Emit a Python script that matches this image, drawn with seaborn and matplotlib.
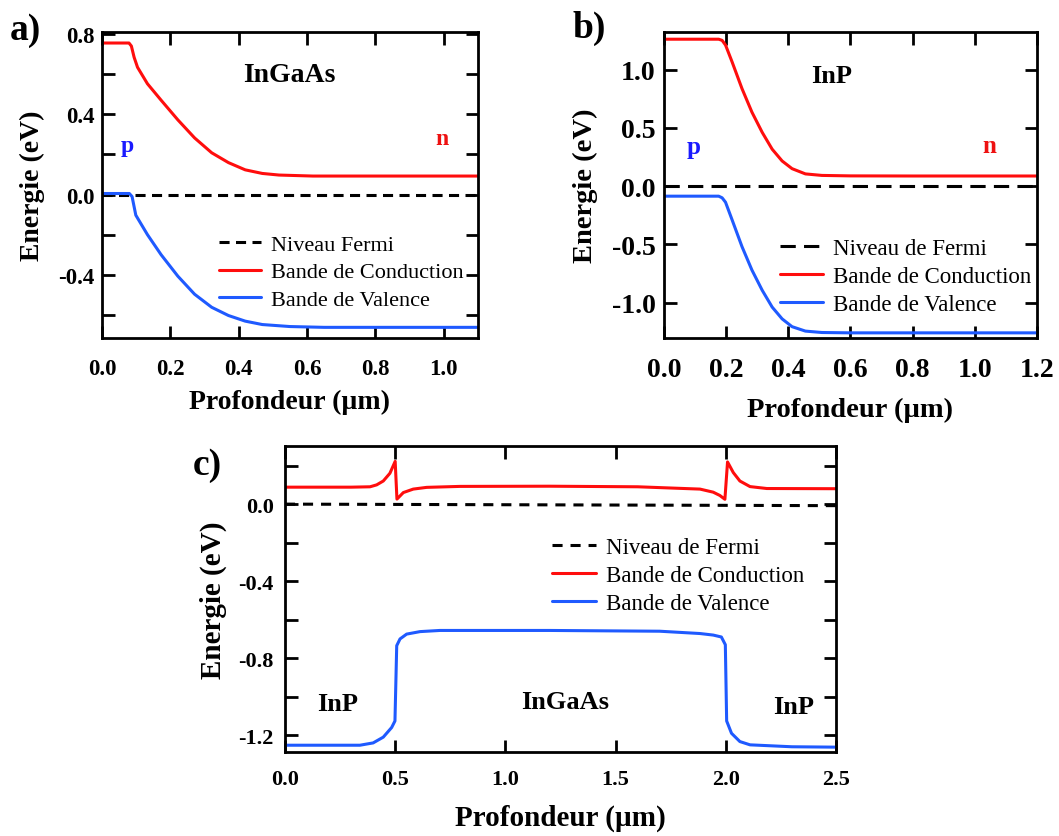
import matplotlib
matplotlib.use("Agg")
import matplotlib.pyplot as plt
import seaborn as sns

# ---- panel a : InGaAs p-n junction ----
a_fermi_x = [0.0, 1.1]
a_fermi_y = [0.0, 0.0]
a_cb_x = [0.0, 0.079, 0.086, 0.094, 0.104, 0.133, 0.173, 0.222, 0.271, 0.321, 0.37, 0.419, 0.469, 0.518, 0.617, 0.8, 1.1]
a_cb_y = [0.755, 0.755, 0.74, 0.684, 0.634, 0.552, 0.470, 0.372, 0.282, 0.208, 0.159, 0.123, 0.105, 0.097, 0.092, 0.092, 0.092]
a_vb_x = [0.0, 0.08, 0.088, 0.099, 0.133, 0.173, 0.222, 0.271, 0.321, 0.37, 0.419, 0.469, 0.55, 0.65, 0.8, 1.1]
a_vb_y = [0.005, 0.005, -0.01, -0.103, -0.2, -0.30, -0.407, -0.497, -0.562, -0.603, -0.631, -0.648, -0.658, -0.662, -0.662, -0.662]
a_xticks = [0.0, 0.2, 0.4, 0.6, 0.8, 1.0]
a_xlabels = ["0.0", "0.2", "0.4", "0.6", "0.8", "1.0"]
a_yticks = [-0.6, -0.4, -0.2, 0.0, 0.2, 0.4, 0.6, 0.8]
a_ylabels = ["", "-0.4", "", "0.0", "", "0.4", "", "0.8"]

# ---- panel b : InP p-n junction ----
b_fermi_x = [0.0, 1.2]
b_fermi_y = [0.0, 0.0]
b_cb_x = [0.0, 0.176, 0.187, 0.198, 0.219, 0.251, 0.283, 0.316, 0.348, 0.38, 0.412, 0.455, 0.508, 0.6, 0.8, 1.2]
b_cb_y = [1.26, 1.26, 1.25, 1.21, 1.066, 0.836, 0.634, 0.461, 0.317, 0.216, 0.150, 0.105, 0.092, 0.088, 0.087, 0.087]
b_vb_x = [0.0, 0.176, 0.187, 0.198, 0.219, 0.251, 0.283, 0.316, 0.348, 0.38, 0.412, 0.455, 0.508, 0.6, 0.8, 1.2]
b_vb_y = [-0.086, -0.086, -0.10, -0.138, -0.288, -0.519, -0.72, -0.893, -1.037, -1.138, -1.205, -1.243, -1.255, -1.258, -1.258, -1.258]
b_xticks = [0.0, 0.2, 0.4, 0.6, 0.8, 1.0, 1.2]
b_xlabels = ["0.0", "0.2", "0.4", "0.6", "0.8", "1.0", "1.2"]
b_yticks = [-1.0, -0.5, 0.0, 0.5, 1.0]
b_ylabels = ["-1.0", "-0.5", "0.0", "0.5", "1.0"]

# ---- panel c : InP / InGaAs / InP ----
c_fermi_x = [0.0, 2.5]
c_fermi_y = [0.0, -0.008]
c_cb_x = [0.0, 0.30, 0.386, 0.416, 0.446, 0.476, 0.50, 0.508, 0.537, 0.582, 0.643, 0.794, 1.2, 1.6, 1.883, 1.943, 1.973,
          1.996, 2.008, 2.034, 2.064, 2.11, 2.186, 2.5]
c_cb_y = [0.088, 0.088, 0.09, 0.10, 0.12, 0.16, 0.222, 0.026, 0.06, 0.078, 0.087, 0.092, 0.093, 0.09, 0.078, 0.062, 0.045,
          0.025, 0.219, 0.164, 0.12, 0.091, 0.081, 0.08]
c_vb_x = [0.0, 0.34, 0.40, 0.446, 0.484, 0.499, 0.507, 0.522, 0.552, 0.613, 0.703, 1.2, 1.7, 1.883, 1.943, 1.98, 1.998,
          2.004, 2.026, 2.064, 2.11, 2.3, 2.5]
c_vb_y = [-1.252, -1.252, -1.24, -1.21, -1.16, -1.126, -0.735, -0.70, -0.675, -0.662, -0.656, -0.656, -0.66, -0.672, -0.68,
          -0.69, -0.73, -1.126, -1.19, -1.233, -1.25, -1.26, -1.262]
c_xticks = [0.0, 0.5, 1.0, 1.5, 2.0, 2.5]
c_xlabels = ["0.0", "0.5", "1.0", "1.5", "2.0", "2.5"]
c_yticks = [-1.2, -1.0, -0.8, -0.6, -0.4, -0.2, 0.0, 0.2]
c_ylabels = ["-1.2", "", "-0.8", "", "-0.4", "", "0.0", ""]

RED = "#ff0d0d"
BLUE = "#1f5aff"

sns.set_style("ticks")
plt.rcParams["font.family"] = ["Liberation Serif", "DejaVu Serif"]
plt.rcParams["axes.linewidth"] = 2.0
plt.rcParams["axes.edgecolor"] = "black"
plt.rcParams["axes.labelcolor"] = "black"
plt.rcParams["text.color"] = "black"
plt.rcParams["xtick.color"] = "black"
plt.rcParams["ytick.color"] = "black"
plt.rcParams["axes.unicode_minus"] = False

fig = plt.figure(figsize=(10.59, 8.37), dpi=100)
ax_a = fig.add_axes([0.0963, 0.595, 0.355, 0.3656])
ax_b = fig.add_axes([0.627, 0.595, 0.3522, 0.3656])
ax_c = fig.add_axes([0.2691, 0.1004, 0.5203, 0.3656])


def draw_bands(ax, fx, fy, cx, cy, vx, vy, dash, fermi_name):
    sns.lineplot(x=fx, y=fy, ax=ax, color="black", linewidth=2.2, linestyle=(0, dash),
                 estimator=None, sort=False, label=fermi_name)
    sns.lineplot(x=cx, y=cy, ax=ax, color=RED, linewidth=2.2, estimator=None, sort=False,
                 label="Bande de Conduction")
    sns.lineplot(x=vx, y=vy, ax=ax, color=BLUE, linewidth=2.2, estimator=None, sort=False,
                 label="Bande de Valence")


def style_axes(ax, xlim, ylim, xt, xl, yt, yl, tsize, lsize, xpad, ypad, txpad, typad):
    ax.set_xlim(*xlim)
    ax.set_ylim(*ylim)
    ax.set_xticks(xt)
    ax.set_xticklabels(xl)
    ax.set_yticks(yt)
    ax.set_yticklabels(yl)
    ax.tick_params(direction="in", top=True, right=True, length=9, width=2, labelsize=tsize)
    ax.tick_params(axis="x", pad=txpad)
    ax.tick_params(axis="y", pad=typad)
    for lab in ax.get_xticklabels() + ax.get_yticklabels():
        lab.set_fontweight("bold")
    ax.set_xlabel("Profondeur (µm)", fontsize=lsize, fontweight="bold", labelpad=xpad)
    ax.set_ylabel("Energie (eV)", fontsize=lsize, fontweight="bold", labelpad=ypad)


def add_legend(ax, x0, yc, dfont):
    ax.legend(loc="center left", bbox_to_anchor=(x0, yc), frameon=False, fontsize=dfont,
              handlelength=1.9, handletextpad=0.45, labelspacing=0.3, borderpad=0, borderaxespad=0)


# panel a
draw_bands(ax_a, a_fermi_x, a_fermi_y, a_cb_x, a_cb_y, a_vb_x, a_vb_y, (3.3, 2.1), "Niveau Fermi")
style_axes(ax_a, (0, 1.1), (-0.715, 0.81), a_xticks, a_xlabels, a_yticks, a_ylabels, 16.5, 20, 6.7, 9.5, 14.5, 5.5)
add_legend(ax_a, 0.31, 0.215, 16)
ax_a.text(0.549, 0.60, "InGaAs", fontsize=20, fontweight="bold", ha="center", va="center")
ax_a.text(0.075, 0.245, "p", fontsize=17, fontweight="bold", color="#1a1aff", ha="center", va="center")
ax_a.text(0.994, 0.28, "n", fontsize=17, fontweight="bold", color="#ee1111", ha="center", va="center")

# panel b
draw_bands(ax_b, b_fermi_x, b_fermi_y, b_cb_x, b_cb_y, b_vb_x, b_vb_y, (5.0, 2.7), "Niveau de Fermi")
style_axes(ax_b, (0, 1.2), (-1.302, 1.322), b_xticks, b_xlabels, b_yticks, b_ylabels, 20, 20.5, 10.6, 10, 14, 6)
add_legend(ax_b, 0.31, 0.20, 16.5)
ax_b.text(0.54, 0.95, "InP", fontsize=19, fontweight="bold", ha="center", va="center")
ax_b.text(0.096, 0.34, "p", fontsize=18, fontweight="bold", color="#1a1aff", ha="center", va="center")
ax_b.text(1.046, 0.35, "n", fontsize=18, fontweight="bold", color="#ee1111", ha="center", va="center")

# panel c
draw_bands(ax_c, c_fermi_x, c_fermi_y, c_cb_x, c_cb_y, c_vb_x, c_vb_y, (3.3, 2.6), "Niveau de Fermi")
style_axes(ax_c, (0, 2.5), (-1.287, 0.302), c_xticks, c_xlabels, c_yticks, c_ylabels, 16, 21, 10.5, 8, 12.6, 8)
add_legend(ax_c, 0.485, 0.578, 16.5)
ax_c.text(0.24, -1.035, "InP", fontsize=19, fontweight="bold", ha="center", va="center")
ax_c.text(1.27, -1.025, "InGaAs", fontsize=19, fontweight="bold", ha="center", va="center")
ax_c.text(2.31, -1.05, "InP", fontsize=19, fontweight="bold", ha="center", va="center")

# panel letters
fig.text(0.0094, 0.964, "a)", fontsize=27, fontweight="bold", ha="left", va="center")
fig.text(0.541, 0.966, "b)", fontsize=27, fontweight="bold", ha="left", va="center")
fig.text(0.182, 0.4444, "c)", fontsize=27, fontweight="bold", ha="left", va="center")

fig.savefig("out.png", dpi=100)
